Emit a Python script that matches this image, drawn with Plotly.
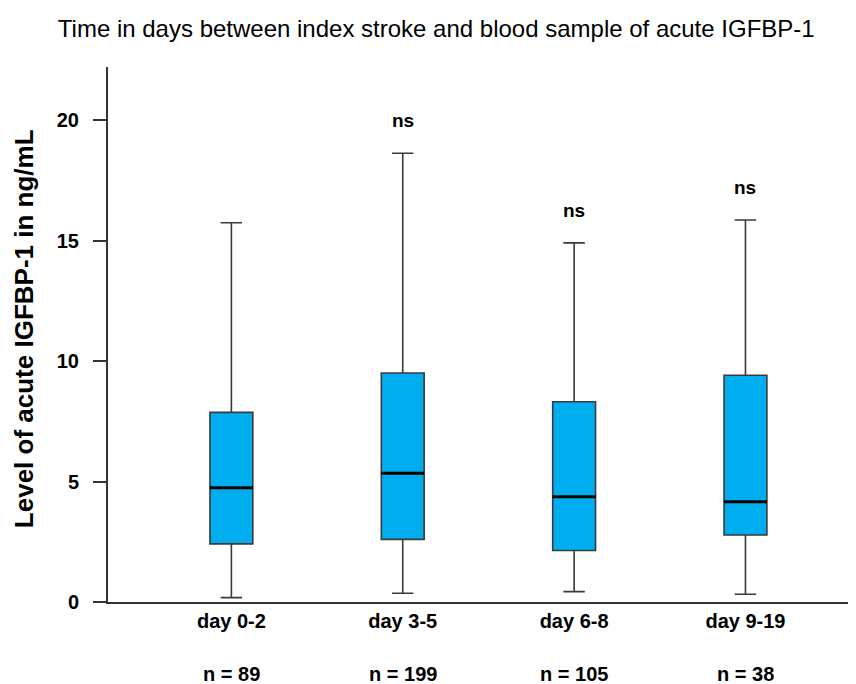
import plotly.graph_objects as go

categories = ["day 0-2", "day 3-5", "day 6-8", "day 9-19"]
n_labels = ["n = 89", "n = 199", "n = 105", "n = 38"]
lower_whisker = [0.18, 0.36, 0.43, 0.32]
q1 = [2.41, 2.60, 2.14, 2.78]
median = [4.74, 5.34, 4.37, 4.16]
q3 = [7.87, 9.50, 8.31, 9.41]
upper_whisker = [15.74, 18.62, 14.90, 15.85]
sig_labels = ["", "ns", "ns", "ns"]
y_ticks = [0, 5, 10, 15, 20]

FONT = "Liberation Sans, Arial, sans-serif"
BOX_W = 0.25
xpos = list(range(len(categories)))

# page has an 8px body margin, so the figure is sized/offset accordingly
W, H = 848, 676
ML, MR, MT, MB = 100, 6, 59, 82
plot_w = W - ML - MR

fig = go.Figure()
fig.add_trace(go.Box(
    x=xpos, q1=q1, median=median, q3=q3,
    lowerfence=lower_whisker, upperfence=upper_whisker,
    width=BOX_W, whiskerwidth=0.5,
    fillcolor="#00AEEF",
    line=dict(color="#3a3a3a", width=1.6),
    boxpoints=False, showlegend=False, hoverinfo="skip",
))

# emphasised median lines
mx, my = [], []
for i, m in enumerate(median):
    mx += [i - BOX_W / 2, i + BOX_W / 2, None]
    my += [m, m, None]
fig.add_trace(go.Scatter(x=mx, y=my, mode="lines",
                         line=dict(color="black", width=3),
                         showlegend=False, hoverinfo="skip"))

for i, s in enumerate(sig_labels):
    if s:
        fig.add_annotation(x=i, y=upper_whisker[i], text="<b>%s</b>" % s,
                           showarrow=False, yanchor="bottom", yshift=20,
                           font=dict(family=FONT, size=19, color="black"))

for i, s in enumerate(n_labels):
    fig.add_annotation(x=i, y=0, yref="y", text="<b>%s</b>" % s, showarrow=False,
                       yanchor="middle", yshift=-72,
                       font=dict(family=FONT, size=20, color="black"))

fig.add_annotation(text="<b>Level of acute IGFBP-1 in ng/mL</b>", textangle=-90,
                   xref="paper", yref="paper", x=-84 / plot_w, y=0.51,
                   xanchor="center", yanchor="middle", showarrow=False,
                   font=dict(family=FONT, size=26, color="black"))

fig.update_layout(
    width=W, height=H,
    margin=dict(l=ML, r=MR, t=MT, b=MB, autoexpand=False),
    paper_bgcolor="white", plot_bgcolor="white",
    title=dict(text="Time in days between index stroke and blood sample of acute IGFBP-1",
               x=0.505, xanchor="center", y=1 - 21 / H, yanchor="middle",
               font=dict(family=FONT, size=24, color="black")),
    xaxis=dict(
        tickmode="array", tickvals=xpos, ticktext=categories,
        range=[-0.72, 3.61], showgrid=False, zeroline=False,
        showline=True, linecolor="#333333", linewidth=2,
        ticks="", tickfont=dict(family=FONT, size=20, color="black", weight="bold"),
        fixedrange=True,
    ),
    yaxis=dict(
        range=[0, 22.2], tickvals=y_ticks, showgrid=False, zeroline=False,
        showline=True, linecolor="#333333", linewidth=2,
        ticks="outside", ticklen=13, tickwidth=2, tickcolor="#333333",
        ticklabelstandoff=10,
        tickfont=dict(family=FONT, size=20, color="black", weight="bold"),
    ),
)

fig.write_html("out.html")
